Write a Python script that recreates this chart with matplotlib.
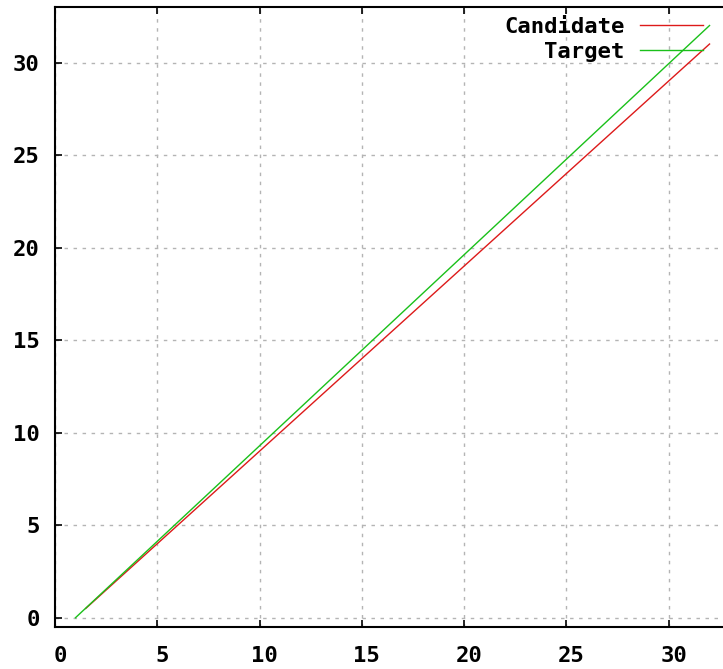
import matplotlib
matplotlib.use('Agg')
import matplotlib.pyplot as plt
import matplotlib.transforms as mtransforms

# values
x_candidate = [1.5, 32]
y_candidate = [0.5, 31]
x_target = [1, 32]
y_target = [0, 32]
xticks = [0, 5, 10, 15, 20, 25, 30]
yticks = [0, 5, 10, 15, 20, 25, 30]

plt.rcParams['font.family'] = ['DejaVu Sans Mono']
plt.rcParams['font.weight'] = 'bold'

fig = plt.figure(figsize=(7.23, 6.69), dpi=100)
ax = fig.add_axes([55/723, 42/669, 675/723, 620/669])

ax.plot(x_candidate, y_candidate, color='#dd1a1a', lw=1, label='Candidate')
ax.plot(x_target, y_target, color='#1ac01a', lw=1, label='Target')

ax.set_xlim(0, 33)
ax.set_ylim(-0.5, 33)
ax.set_xticks(xticks)
ax.set_yticks(yticks)
ax.grid(True, color='#b4b4b4', lw=1, linestyle=(0, (2.5, 4)))
ax.tick_params(direction='in', length=5, width=1.2, top=True, right=True,
               labelsize=16)
ax.tick_params(axis='x', pad=14)
ax.tick_params(axis='y', pad=11)
for s in ax.spines.values():
    s.set_linewidth(1.5)

# gnuplot puts x labels a little right of the ticks
shift = mtransforms.ScaledTranslation(5/100, 0, fig.dpi_scale_trans)
for lab in ax.get_xticklabels():
    lab.set_transform(lab.get_transform() + shift)

ax.legend(loc='upper right', bbox_to_anchor=(703/723, 1 - 17/669),
          bbox_transform=fig.transFigure, frameon=False, markerfirst=False,
          borderpad=0, borderaxespad=0, handlelength=2.85, handletextpad=0.68,
          labelspacing=0.23, prop={'size': 16, 'weight': 'bold'})

fig.savefig('out.png', dpi=100)
